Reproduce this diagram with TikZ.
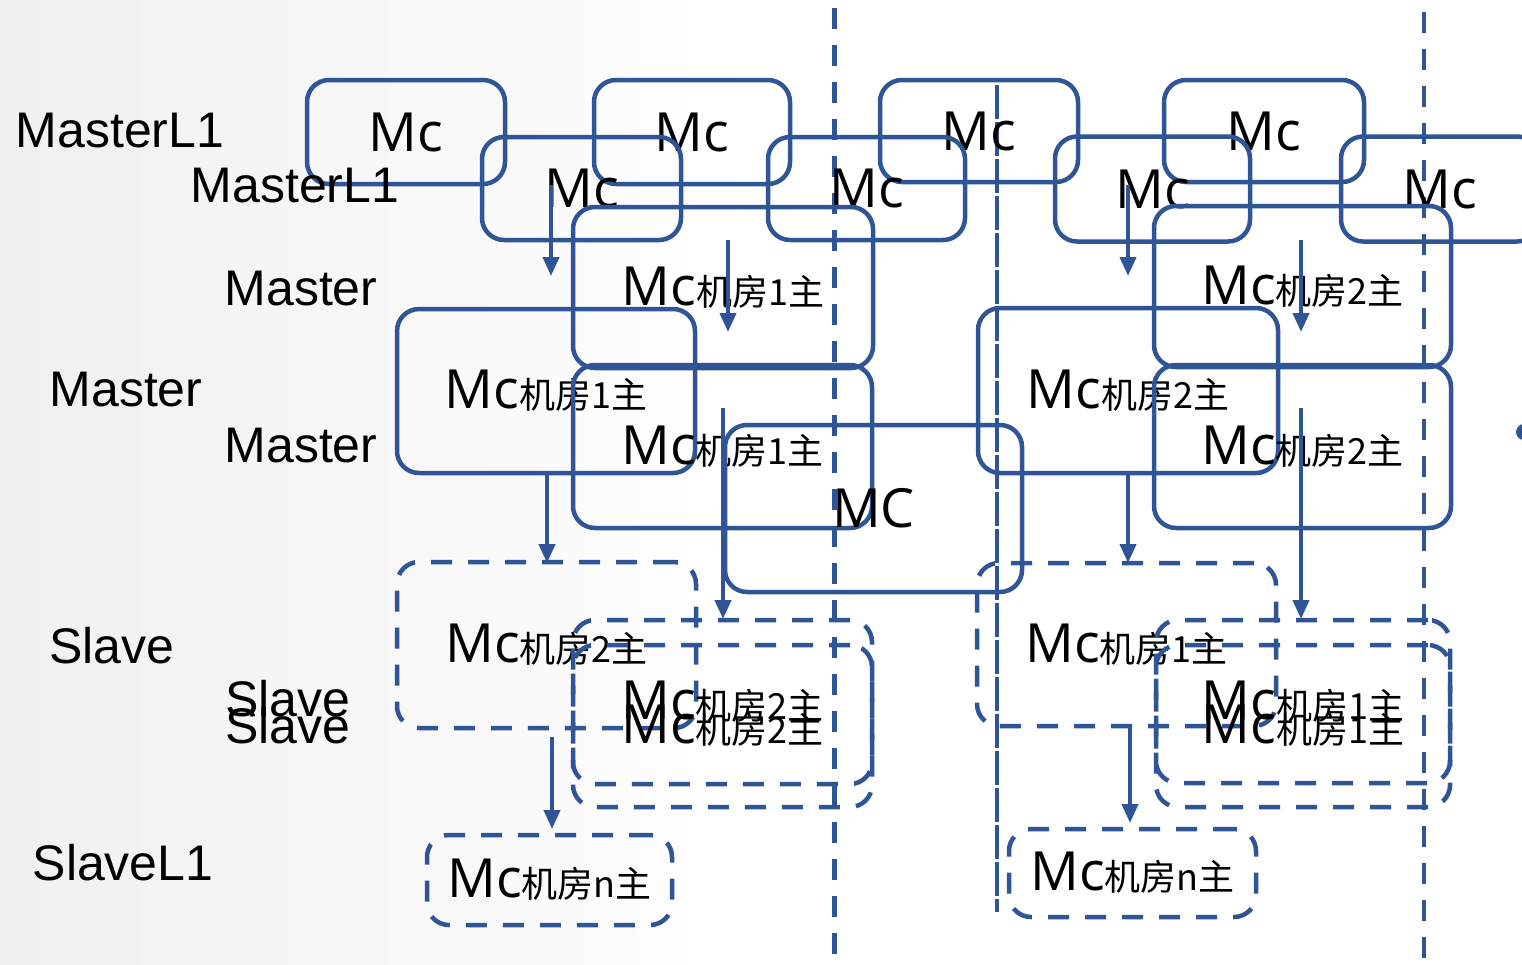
\documentclass[tikz,border=0pt]{standalone}
\usepackage{fontspec}
\setmainfont{Liberation Sans}
\newfontfamily\mcfont{Open Sans}
\newfontfamily\cjk{Noto Sans CJK SC}
\usetikzlibrary{arrows.meta}
\definecolor{mcblue}{RGB}{47,85,151}
\newcommand\bigmc[1]{{\fontsize{54bp}{60bp}\mcfont #1}}
\newcommand\smallcn[1]{{\fontsize{36bp}{40bp}\cjk #1}}
\newcommand\room[1]{\bigmc{Mc}\smallcn{#1}}
\tikzset{
  sbox/.style={draw=mcblue, line width=4.5bp, rounded corners=22bp, inner sep=0pt, align=center},
  dbox/.style={sbox, dash pattern=on 21bp off 16bp},
  lab/.style={font=\fontsize{50bp}{60bp}\selectfont, anchor=base, inner sep=0pt},
  arr/.style={draw=mcblue, line width=4bp, -{Triangle[length=19bp,width=16bp]}},
  vdash/.style={draw=mcblue, line width=4.5bp, dash pattern=on 21bp off 16bp},
  vlong/.style={draw=mcblue, line width=4.5bp, dash pattern=on 34bp off 3bp},
}
\begin{document}
\begin{tikzpicture}[x=1bp,y=-1bp]
\useasboundingbox (0,0) rectangle (1522,964);
\fill[white] (0,0) rectangle (1522,964);
\shade[left color=black!6, right color=white] (0,0) rectangle (760,964);
% vertical separators
\coordinate (v1t) at (834.5,8);   \coordinate (v1b) at (834.5,964);
\coordinate (v2t) at (1424,12);   \coordinate (v2b) at (1424,964);
\coordinate (v3t) at (997,85);    \coordinate (v3b) at (997,912);
\draw[vdash] (v1t) -- (v1b);
\draw[vdash] (v2t) -- (v2b);
\draw[vlong] (v3t) -- (v3b);
% background dot
\fill[mcblue] (1524,432) circle (8);
% row A
\node[sbox, minimum width=198bp, minimum height=104bp] (a1) at (406,132) {\bigmc{Mc}};
\node[sbox, minimum width=196bp, minimum height=104bp] (a2) at (692,132) {\bigmc{Mc}};
\node[sbox, minimum width=198bp, minimum height=102bp] (a3) at (979,131) {\bigmc{Mc}};
\node[sbox, minimum width=200bp, minimum height=102bp] (a4) at (1264,131) {\bigmc{Mc}};
% row B
\node[sbox, minimum width=199bp, minimum height=103bp] (b1) at (581.5,188.5) {\bigmc{Mc}};
\node[sbox, minimum width=197bp, minimum height=103bp] (b2) at (866.5,188.5) {\bigmc{Mc}};
\node[sbox, minimum width=195bp, minimum height=105bp] (b3) at (1152.5,189) {\bigmc{Mc}};
\node[sbox, minimum width=198bp, minimum height=105bp] (b4) at (1440,189) {\bigmc{Mc}};
% master boxes
\node[sbox, minimum width=300bp, minimum height=161bp] (c1) at (723,287.5) {\room{机房1主}};
\node[sbox, minimum width=298bp, minimum height=164bp] (c2) at (546,391) {\room{机房1主}};
\node[sbox, minimum width=299bp, minimum height=163bp] (c3) at (722.5,446.5) {\room{机房1主}};
\node[sbox, minimum width=297bp, minimum height=167bp] (c4) at (873.5,508.5) {\bigmc{MC}};
\node[sbox, minimum width=297bp, minimum height=161bp] (d1) at (1302.5,286.5) {\room{机房2主}};
\node[sbox, minimum width=300bp, minimum height=165bp] (d2) at (1128,390.5) {\room{机房2主}};
\node[sbox, minimum width=297bp, minimum height=163bp] (d3) at (1302.5,446.5) {\room{机房2主}};
% slave boxes
\node[dbox, minimum width=299bp, minimum height=166bp] (e1) at (546.5,645) {\room{机房2主}};
\node[dbox, minimum width=299bp, minimum height=164bp] (e2) at (722.5,702) {\room{机房2主}};
\node[dbox, minimum width=299bp, minimum height=162bp] (e3) at (722.5,726) {\room{机房2主}};
\node[dbox, minimum width=299bp, minimum height=163bp] (f1) at (1126.5,644.5) {\room{机房1主}};
\node[dbox, minimum width=294bp, minimum height=163bp] (f2) at (1303,701.5) {\room{机房1主}};
\node[dbox, minimum width=294bp, minimum height=162bp] (f3) at (1303,726) {\room{机房1主}};
% slaveL1 boxes
\node[dbox, minimum width=245bp, minimum height=90bp] (g1) at (549.5,880) {\room{机房n主}};
\node[dbox, minimum width=247bp, minimum height=88bp] (g2) at (1132.5,873) {\room{机房n主}};
% arrows
\coordinate (p1s) at (551,185);  \coordinate (p1e) at (551,276);
\coordinate (p2s) at (728,240);  \coordinate (p2e) at (728,332);
\coordinate (p3s) at (1128,185); \coordinate (p3e) at (1128,276);
\coordinate (p4s) at (1301,240); \coordinate (p4e) at (1301,332);
\coordinate (p5s) at (547,473);  \coordinate (p5e) at (547,563);
\coordinate (p6s) at (723,408);  \coordinate (p6e) at (723,619);
\coordinate (p7s) at (1128,473); \coordinate (p7e) at (1128,563);
\coordinate (p8s) at (1301,408); \coordinate (p8e) at (1301,619);
\coordinate (p9s) at (552,737);  \coordinate (p9e) at (552,829);
\coordinate (p10s) at (1130,728); \coordinate (p10e) at (1130,823);
\foreach \i in {1,...,10} {\draw[arr] (p\i s) -- (p\i e);}
% row labels
\node[lab] (l1) at (120,147) {MasterL1};
\node[lab] (l2) at (295,202) {MasterL1};
\node[lab] (l3) at (301,305) {Master};
\node[lab] (l4) at (126,406) {Master};
\node[lab] (l5) at (301,462) {Master};
\node[lab] (l6) at (112,663) {Slave};
\node[lab] (l7) at (288,716) {Slave};
\node[lab] (l8) at (288,743) {Slave};
\node[lab] (l9) at (123,880) {SlaveL1};
\end{tikzpicture}
\end{document}
